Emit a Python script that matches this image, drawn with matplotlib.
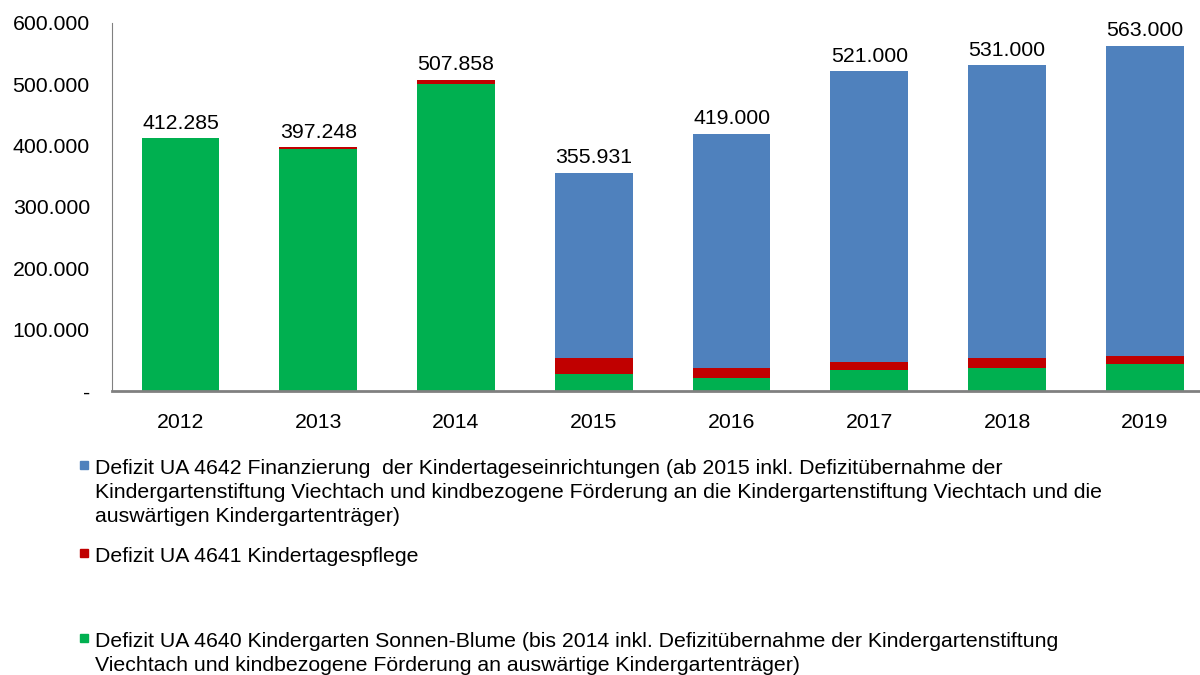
import matplotlib
matplotlib.use("Agg")
import matplotlib.pyplot as plt
from matplotlib.patches import Rectangle
import numpy as np

# Daten
jahre = ["2012", "2013", "2014", "2015", "2016", "2017", "2018", "2019"]
gruen = [412285, 394248, 501358, 27200, 20700, 33800, 37000, 43600]   # UA 4640
rot = [0, 3000, 6500, 26100, 16300, 13000, 16300, 13000]              # UA 4641
blau = [0, 0, 0, 302631, 382000, 474200, 477700, 506400]              # UA 4642

legende = [
    "Defizit UA 4642 Finanzierung  der Kindertageseinrichtungen (ab 2015 inkl. Defizitübernahme der\n"
    "Kindergartenstiftung Viechtach und kindbezogene Förderung an die Kindergartenstiftung Viechtach und die\n"
    "auswärtigen Kindergartenträger)",
    "Defizit UA 4641 Kindertagespflege",
    "Defizit UA 4640 Kindergarten Sonnen-Blume (bis 2014 inkl. Defizitübernahme der Kindergartenstiftung\n"
    "Viechtach und kindbezogene Förderung an auswärtige Kindergartenträger)",
]

c_blau = "#4F81BD"
c_rot = "#C00000"
c_gruen = "#00B050"

plt.rcParams['font.family'] = ['Liberation Sans', 'DejaVu Sans']

fig = plt.figure(figsize=(12, 6.75), dpi=100)
ax = fig.add_axes([112/1200, 1-391/675, 1-112/1200, (391-23)/675])

x = np.arange(len(jahre))
g = np.array(gruen)
r = np.array(rot)
b = np.array(blau)
w = 0.565
ax.bar(x, g, w, color=c_gruen)
ax.bar(x, r, w, bottom=g, color=c_rot)
ax.bar(x, b, w, bottom=g + r, color=c_blau)

summe = g + r + b
for xi, s in zip(x, summe):
    txt = f"{s:,}".replace(",", ".")
    ax.annotate(txt, (xi, s), xytext=(0, 4), textcoords="offset points",
                ha="center", va="bottom", fontsize=15.3)

ax.set_xlim(-0.497, 7.40)
ax.set_ylim(0, 600000)
ax.set_xticks(x)
ax.set_xticklabels(jahre, fontsize=15.3)
yt = np.arange(0, 600001, 100000)
ax.set_yticks(yt)
ax.set_yticklabels(["-"] + [f"{v:,}".replace(",", ".") for v in yt[1:]], fontsize=15.3)
ax.tick_params(axis="both", length=0)
ax.tick_params(axis="x", pad=15.5)
ax.tick_params(axis="y", pad=16)
for s in ["top", "right"]:
    ax.spines[s].set_visible(False)
ax.spines["left"].set_color("#808080")
ax.spines["bottom"].set_color("#808080")
ax.spines["bottom"].set_linewidth(2)

# Legende unten
farben = [c_blau, c_rot, c_gruen]
ypos = [467, 555, 640]
for txt, col, yp in zip(legende, farben, ypos):
    fig.patches.append(Rectangle((80/1200, 1-(yp+1.5)/675), 7.5/1200, 7.5/675,
                                 transform=fig.transFigure, color=col))
    fig.text(95/1200, 1-(yp-8)/675, txt, fontsize=15.3, va="top", ha="left",
             linespacing=1.33)

fig.savefig("out.png", dpi=100)
